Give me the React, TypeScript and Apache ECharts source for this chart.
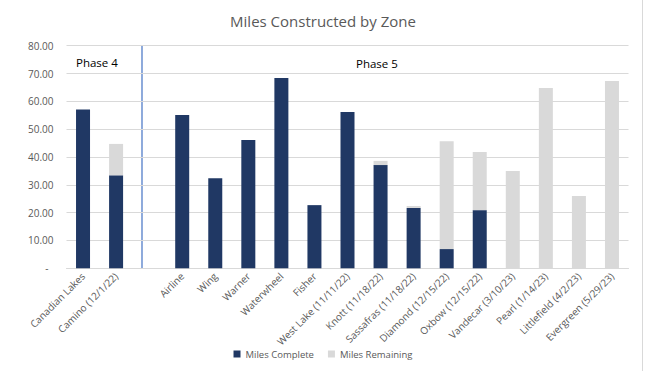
import React, { useEffect, useRef } from "react";
import * as echarts from "echarts";

const categories = [
  "Canadian Lakes",
  "Camino (12/1/22)",
  "",
  "Airline",
  "Wing",
  "Warner",
  "Waterwheel",
  "Fisher",
  "West Lake (11/11/22)",
  "Knott (11/18/22)",
  "Sassafras (11/18/22)",
  "Diamond (12/15/22)",
  "Oxbow (12/15/22)",
  "Vandecar (3/10/23)",
  "Pearl (1/14/23)",
  "Littlefield (4/2/23)",
  "Evergreen (5/29/23)",
];

const milesComplete = [57.1, 33.4, null, 55.1, 32.4, 46.1, 68.4, 22.7, 56.2, 37.1, 21.7, 6.9, 20.9, 0, 0, 0, 0];
const milesRemaining = [0, 11.3, null, 0, 0, 0, 0, 0, 0, 1.5, 0.7, 38.8, 20.9, 35.0, 64.8, 26.0, 67.3];

const yTicks = { min: 0, max: 80, interval: 10 };

const FONT = "'Open Sans', 'Noto Sans', sans-serif";

export default function App() {
  const ref = useRef<HTMLDivElement>(null);
  useEffect(() => {
    document.body.style.margin = "0";
    const chart = echarts.init(ref.current!, null, { renderer: "svg" });
    chart.setOption({
      animation: false,
      backgroundColor: "#ffffff",
      title: {
        text: "Miles Constructed by Zone",
        left: "center",
        top: 8,
        textStyle: { color: "#595959", fontSize: 15, fontWeight: "normal", fontFamily: FONT },
      },
      legend: {
        bottom: 7,
        left: "center",
        itemWidth: 7,
        itemHeight: 7,
        itemGap: 14,
        icon: "rect",
        textStyle: { color: "#595959", fontSize: 9.5, fontFamily: FONT },
        data: ["Miles Complete", "Miles Remaining"],
      },
      grid: { left: 66.5, right: 17.5, top: 45.7, bottom: 102.7 },
      xAxis: {
        type: "category",
        data: categories,
        axisLine: { lineStyle: { color: "#D9D9D9" } },
        axisTick: { show: false },
        axisLabel: {
          rotate: 45,
          interval: 0,
          margin: 6,
          color: "#595959",
          fontSize: 10,
          fontFamily: FONT,
        },
      },
      yAxis: {
        type: "value",
        min: yTicks.min,
        max: yTicks.max,
        interval: yTicks.interval,
        axisLine: { show: false },
        axisTick: { show: false },
        splitLine: { lineStyle: { color: "#D9D9D9" } },
        axisLabel: {
          color: "#595959",
          fontSize: 10,
          fontFamily: FONT,
          margin: 13,
          formatter: (v: number) => (v === 0 ? "{d|-}" : v.toFixed(2)),
          rich: { d: { padding: [0, 5, 0, 0], color: "#595959", fontSize: 10, fontFamily: FONT } },
        },
      },
      series: [
        {
          name: "Miles Complete",
          type: "bar",
          stack: "total",
          data: milesComplete,
          barWidth: 14,
          itemStyle: { color: "#203864" },
        },
        {
          name: "Miles Remaining",
          type: "bar",
          stack: "total",
          data: milesRemaining,
          barWidth: 14,
          itemStyle: { color: "#D9D9D9" },
        },
      ],
      graphic: [
        {
          type: "line",
          shape: { x1: 142, y1: 45, x2: 142, y2: 269 },
          style: { stroke: "#4472C4", lineWidth: 1.2 },
        },
        {
          type: "text",
          x: 76,
          y: 56,
          style: { text: "Phase 4", fill: "#000000", fontSize: 11.5, fontFamily: FONT },
        },
        {
          type: "text",
          x: 356,
          y: 57,
          style: { text: "Phase 5", fill: "#000000", fontSize: 11.5, fontFamily: FONT },
        },
        {
          type: "line",
          shape: { x1: 642.5, y1: 0, x2: 642.5, y2: 371 },
          style: { stroke: "#D9D9D9", lineWidth: 1 },
        },
      ],
    });
    return () => chart.dispose();
  }, []);
  return <div ref={ref} style={{ width: 646, height: 371 }} />;
}
